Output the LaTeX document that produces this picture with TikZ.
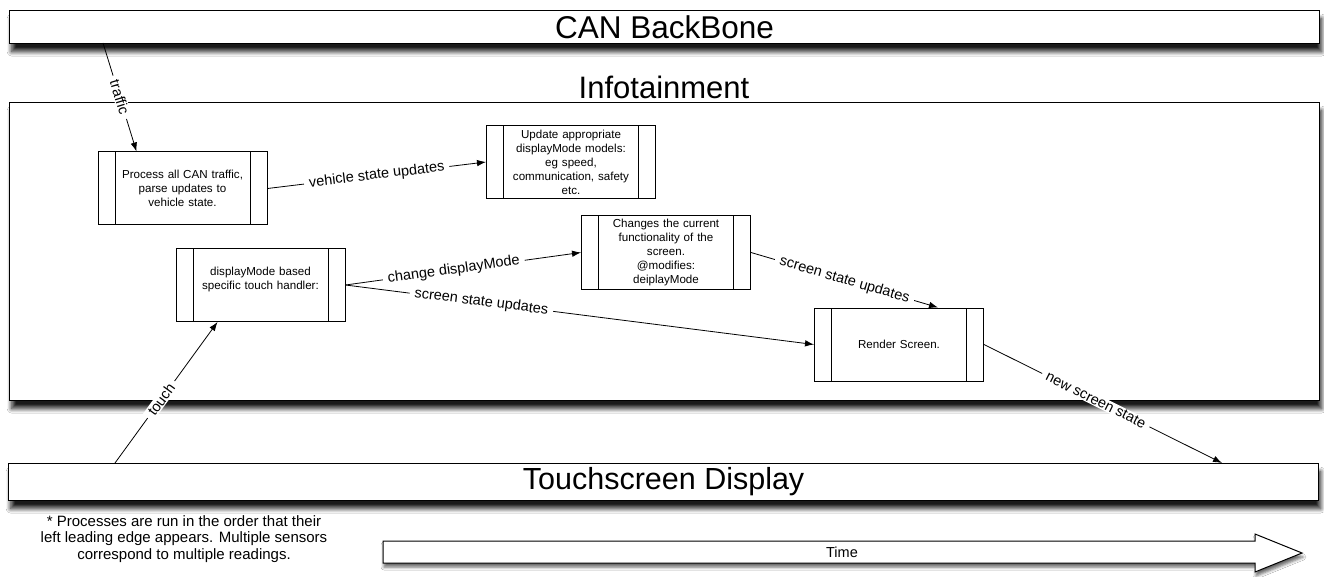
\documentclass[tikz,border=0pt]{standalone}
\usepackage{fontspec}
\setmainfont{Liberation Sans}
\usetikzlibrary{arrows.meta,shadows.blur,calc}
\begin{document}
\begin{tikzpicture}[x=1pt,y=-1pt,
  shad/.style={blur shadow={shadow xshift=2pt, shadow yshift=-8pt, shadow blur radius=4.5pt, shadow blur steps=10, shadow opacity=90}},
  bar/.style={draw, line width=1.2pt, fill=white, inner sep=0pt, shad},
  proc/.style={draw, line width=1pt, fill=white, minimum width=169pt, minimum height=73pt,
    text width=132pt, align=center, inner sep=0pt, font=\fontsize{11.6}{14}\selectfont,
    path picture={\draw[line width=1pt]
      ([xshift=17pt]path picture bounding box.north west) -- ([xshift=17pt]path picture bounding box.south west)
      ([xshift=-17pt]path picture bounding box.north east) -- ([xshift=-17pt]path picture bounding box.south east);}},
  conn/.style={line width=0.8pt, -{Latex[length=9pt,width=6.5pt]}},
  lbl/.style={fill=white, sloped, inner xsep=5pt, inner ysep=1pt, font=\fontsize{14.5}{16}\selectfont}
]
\useasboundingbox (0,0) rectangle (1324,577);
\fill[white] (0,0) rectangle (1324,577);

% bars
\node[bar, minimum width=1310pt, minimum height=33pt, anchor=north west,
  font=\fontsize{31.5}{34}\selectfont] (can) at (9,10) {CAN BackBone};
\node[draw, line width=1.2pt, fill=white, minimum width=1310pt, minimum height=298pt,
  anchor=north west, shad] (info) at (9,102) {};
\node[font=\fontsize{31}{34}\selectfont] (infotitle) at (664,87) {Infotainment};
\node[bar, minimum width=1310pt, minimum height=37pt, anchor=north west,
  font=\fontsize{30.5}{34}\selectfont] (touchbar) at (8,463) {Touchscreen Display};

% processes
\node[proc] (p1) at (182.5,188.5) {Process all CAN traffic,\\parse updates to\\vehicle state.};
\node[proc] (p2) at (571,162) {Update appropriate\\displayMode models:\\eg speed,\\communication, safety\\etc.};
\node[proc] (p3) at (260.5,285) {displayMode based\\specific touch handler:\\ \mbox{}};
\node[proc] (p4) at (666,252.5) {Changes the current\\functionality of the\\screen.\\@modifies:\\deiplayMode};
\node[proc] (p5) at (899,344.5) {Render Screen.};

% free ends on bars
\coordinate (canout) at (103,43);
\coordinate (touchin) at (1222,463);
\coordinate (touchout) at (115,463);

% connectors
\draw[conn] (canout) -- node[lbl, pos=0.5] {traffic} ([xshift=39pt]p1.north west);
\draw[conn] (p1.east) -- node[lbl, pos=0.5] {vehicle state updates} (p2.west);
\draw[conn] (p3.east) -- node[lbl, pos=0.46] {change displayMode} (p4.west);
\draw[conn] (p3.east) -- node[lbl, pos=0.29] {screen state updates} (p5.west);
\draw[conn] (p4.east) -- node[lbl, pos=0.5] {screen state updates} ([xshift=124pt]p5.north west);
\draw[conn] (p5.east) -- node[lbl, pos=0.47] {new screen state} (touchin);
\draw[conn] (touchout) -- node[lbl, pos=0.45] {touch} ([xshift=42pt]p3.south west);

% footnote
\node[align=center, font=\fontsize{15}{16.5}\selectfont] (note) at (184,539)
  {* Processes are run in the order that their\\left leading edge appears. Multiple sensors\\correspond to multiple readings.};

% time arrow
\draw[line width=1pt, fill=white,
  blur shadow={shadow xshift=1pt, shadow yshift=-4pt, shadow blur radius=3pt, shadow opacity=60}]
  (383,541) -- (1255,541) -- (1255,534) -- (1302,553) -- (1255,572) -- (1255,563) -- (383,563) -- cycle;
\node[font=\fontsize{14.5}{16}\selectfont] (time) at (842,552) {Time};
\end{tikzpicture}
\end{document}
